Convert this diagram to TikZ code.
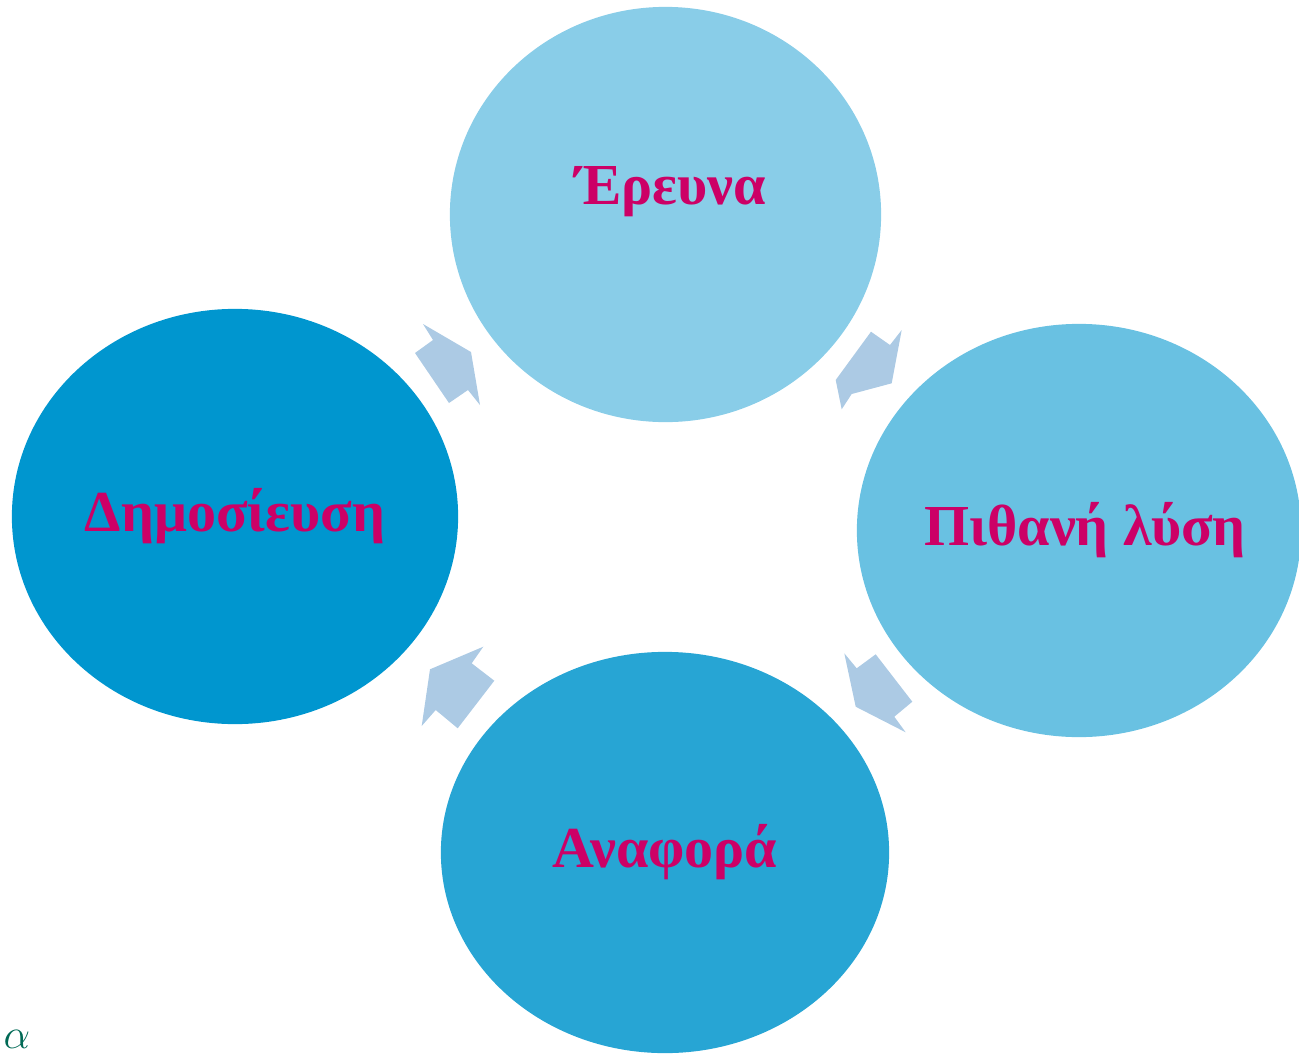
\documentclass[tikz,border=0pt]{standalone}
\usepackage{fontspec}
\setmainfont{Liberation Serif}
\usepackage{tikz}
\usetikzlibrary{shapes.geometric, positioning}
\definecolor{cResearch}{RGB}{137,205,232}
\definecolor{cSolution}{RGB}{105,193,226}
\definecolor{cReport}{RGB}{39,165,212}
\definecolor{cPublish}{RGB}{0,150,207}
\definecolor{cArrow}{RGB}{172,202,228}
\definecolor{cMagenta}{RGB}{204,0,102}
\definecolor{cAlpha}{RGB}{0,105,85}
\tikzset{
	bubble/.style    ={ellipse, draw=none, minimum width=4.46cm, minimum height=4.15cm, inner sep=0pt},
	bubbletext/.style={text=cMagenta, inner sep=0pt, font=\fontsize{16.5}{20}\selectfont\bfseries},
	cyclearrow/.style={fill=cArrow, draw=none},
}
\begin{document}
\begin{tikzpicture}[x=0.01cm, y=-0.01cm]
	\useasboundingbox (0,0) rectangle (1299,1054);
	\clip (0,0) rectangle (1299,1054);
	% the four stages
	\node[bubble, fill=cResearch, minimum width=4.31cm] (research) at (665.5,214.5) {};
	\node[bubble, fill=cSolution, minimum width=4.44cm, minimum height=4.13cm] (solution) at (1079,530.5) {};
	\node[bubble, fill=cReport, minimum width=4.48cm, minimum height=4.01cm] (report) at (665,852.5) {};
	\node[bubble, fill=cPublish] (publish) at (235,516.5) {};
	\node[bubbletext] (research-t) at ([xshift=0.05cm, yshift=0.23cm]research.center) {Έρευνα};
	\node[bubbletext] (solution-t) at ([xshift=0.06cm]solution.center) {Πιθανή λύση};
	\node[bubbletext] (report-t) at (report.center) {Αναφορά};
	\node[bubbletext] (publish-t) at (publish.center) {Δημοσίευση};
	% block arrows between the stages
	\fill[cyclearrow] (423,324) -- (471,352) -- (480,405) -- (468,390) -- (449,403) -- (415,353) -- (433,340) -- cycle;
	\fill[cyclearrow] (871,331.7) -- (890,345) -- (901.7,330) -- (891.7,383.3) -- (851.7,394) -- (841.7,409.3) -- (835.7,380) -- cycle;
	\fill[cyclearrow] (844.3,653.3) -- (856.7,668.3) -- (875.7,654.3) -- (912.3,701.7) -- (894.3,716.7) -- (905.7,732.3) -- (855.7,706.7) -- cycle;
	\fill[cyclearrow] (483.3,646.7) -- (471.7,663.3) -- (494.3,680.7) -- (457.7,728.3) -- (435.7,710) -- (421.7,726) -- (430,669.3) -- cycle;
	\node[text=cAlpha, inner sep=0pt, anchor=west, font=\fontsize{12}{12}\selectfont] (alpha) at (3,1039) {$\alpha$};
\end{tikzpicture}
\end{document}
